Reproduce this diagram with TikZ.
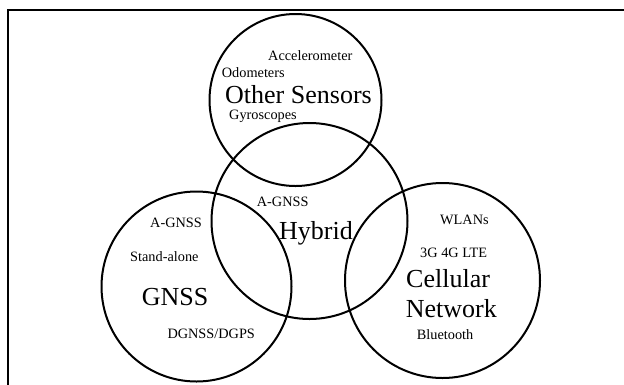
\documentclass[tikz,border=0pt]{standalone}
\usepackage{fontspec}
\setmainfont{Liberation Serif}
\begin{document}
\begin{tikzpicture}[x=1pt, y=-1pt,
    ring/.style={draw, circle, line width=2pt, inner sep=0pt},
    lbl/.style={anchor=base west, inner sep=0pt, font=\fontsize{14.3}{16}\selectfont},
    title/.style={anchor=base west, inner sep=0pt, font=\fontsize{26}{28}\selectfont}]
    \useasboundingbox (0,0) rectangle (624,384);
    \clip (0,0) rectangle (624,384);
    \draw[line width=2.6pt] (8,10) rectangle (640,400);
    % circles
    \node[ring, minimum size=172pt] (sensors) at (295.5,100) {};
    \node[ring, minimum size=196pt] (hybrid) at (309.5,221) {};
    \node[ring, minimum size=190pt] (gnss) at (196.5,286.5) {};
    \node[ring, minimum size=195pt] (cellular) at (442.5,280.5) {};
    % other sensors
    \node[lbl] (acc) at (268,60.5) {Accelerometer};
    \node[lbl] (odo) at (221.7,77.5) {Odometers};
    \node[title] (sens) at (225,103.5) {Other Sensors};
    \node[lbl] (gyro) at (229,119.8) {Gyroscopes};
    % hybrid
    \node[lbl] (hagnss) at (256.7,206.7) {A-GNSS};
    \node[title] (hyb) at (279,239.5) {Hybrid};
    % gnss
    \node[lbl] (gagnss) at (150,227.4) {A-GNSS};
    \node[lbl] (stand) at (130,261.4) {Stand-alone};
    \node[title] (gn) at (141.7,305.3) {GNSS};
    \node[lbl] (dgnss) at (167.3,338) {DGNSS/DGPS};
    % cellular
    \node[lbl] (wlan) at (440,224.7) {WLANs};
    \node[lbl] (lte) at (420,257.4) {3G 4G LTE};
    \node[title] (cell) at (406,287.3) {Cellular};
    \node[title] (net) at (405.7,317) {Network};
    \node[lbl] (blue) at (416.7,339) {Bluetooth};
\end{tikzpicture}
\end{document}
